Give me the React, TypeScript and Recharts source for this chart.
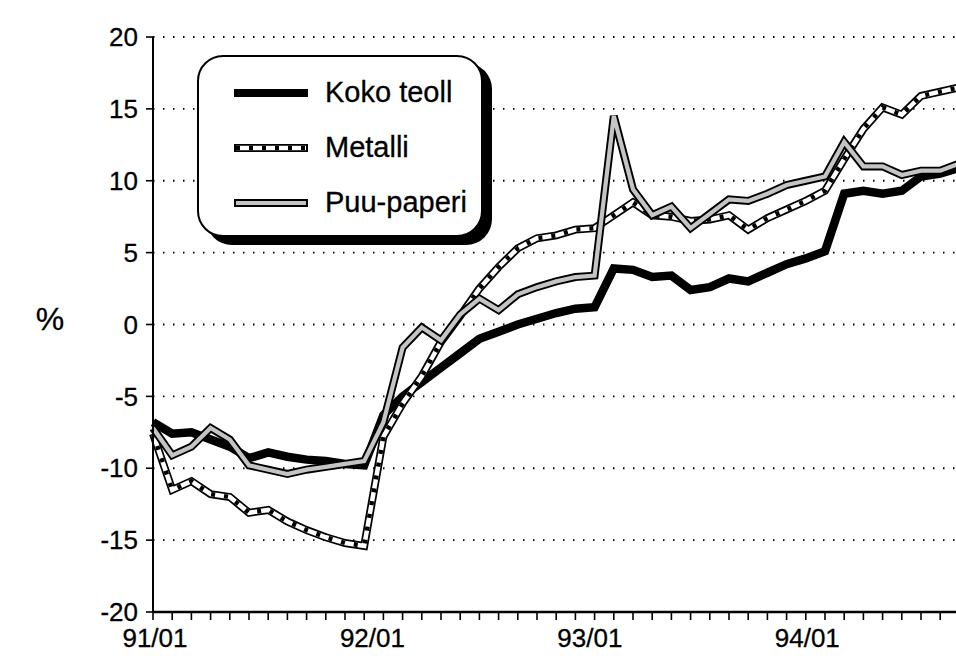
import React from "react";
import { LineChart, Line, XAxis, YAxis, CartesianGrid, Legend } from "recharts";

const months = [
  "91/01", "91/02", "91/03", "91/04", "91/05", "91/06", "91/07", "91/08", "91/09", "91/10", "91/11", "91/12",
  "92/01", "92/02", "92/03", "92/04", "92/05", "92/06", "92/07", "92/08", "92/09", "92/10", "92/11", "92/12",
  "93/01", "93/02", "93/03", "93/04", "93/05", "93/06", "93/07", "93/08", "93/09", "93/10", "93/11", "93/12",
  "94/01", "94/02", "94/03", "94/04", "94/05", "94/06", "94/07",
];

const kokoTeoll = [
  -6.8, -7.6, -7.5, -8.0, -8.5, -9.3, -8.9, -9.2, -9.4, -9.5, -9.7, -9.8,
  -6.3, -5.0, -4.0, -3.0, -2.0, -1.0, -0.5, 0.0, 0.4, 0.8, 1.1, 1.2,
  3.9, 3.8, 3.3, 3.4, 2.4, 2.6, 3.2, 3.0, 3.6, 4.2, 4.6, 5.1,
  9.1, 9.3, 9.1, 9.3, 10.3, 10.5, 10.9,
];

const metalli = [
  -7.6, -11.5, -10.9, -11.8, -12.0, -13.1, -12.9, -13.7, -14.3, -14.8, -15.2, -15.4,
  -7.8, -5.5, -3.6, -1.2, 0.6, 2.5, 4.0, 5.3, 6.0, 6.2, 6.6, 6.7,
  7.6, 8.5, 7.6, 7.5, 7.2, 7.3, 7.6, 6.6, 7.4, 8.0, 8.6, 9.3,
  11.5, 13.6, 15.1, 14.6, 15.9, 16.2, 16.5,
];

const puuPaperi = [
  -7.2, -9.1, -8.5, -7.2, -8.0, -9.8, -10.1, -10.4, -10.1, -9.9, -9.7, -9.5,
  -6.8, -1.6, -0.2, -1.1, 0.7, 1.8, 1.0, 2.1, 2.6, 3.0, 3.3, 3.4,
  14.5, 9.4, 7.6, 8.2, 6.7, 7.7, 8.7, 8.6, 9.1, 9.7, 10.0, 10.3,
  12.7, 11.0, 11.0, 10.4, 10.7, 10.7, 11.2,
];

const yTicks = [-20, -15, -10, -5, 0, 5, 10, 15, 20];
const seriesNames = ["Koko teoll", "Metalli", "Puu-paperi"];

const data = months.map((month, i) => ({
  month,
  koko: kokoTeoll[i],
  metalli: metalli[i],
  puu: puuPaperi[i],
}));

const FONT = "'Liberation Sans', Arial, Helvetica, sans-serif";
const PUU_FILL = "#c4c4c4";

// only the year starts get a label, the printed labels drift a bit left of their ticks
const MonthTick = (props: any) => {
  const { x, y, payload } = props;
  const label: string = payload.value;
  const idx = months.indexOf(label);
  if (!label.endsWith("/01")) return <g />;
  return (
    <text
      x={x + 2 - idx * 1.08}
      y={y + 7}
      dy="0.71em"
      textAnchor="middle"
      fontSize={26}
      fontFamily={FONT}
      fill="#000"
      stroke="#000"
      strokeWidth={0.3}
    >
      {label}
    </text>
  );
};

const PercentLabel = (props: any) => {
  const { viewBox } = props;
  return (
    <text
      x={viewBox.x + 42}
      y={viewBox.y + viewBox.height / 2 - 6}
      dy="0.36em"
      textAnchor="middle"
      fontSize={32}
      fontFamily={FONT}
      fill="#000"
      stroke="#000"
      strokeWidth={0.3}
    >
      %
    </text>
  );
};

const Sample = ({ kind }: { kind: number }) => (
  <svg width={76} height={12} style={{ display: "block", flex: "none" }}>
    <line x1={1} y1={6} x2={75} y2={6} stroke="#000" strokeWidth={8} />
    {kind === 1 && (
      <>
        <line x1={3} y1={6} x2={73} y2={6} stroke="#fff" strokeWidth={4.5} />
        <line x1={3} y1={6} x2={73} y2={6} stroke="#000" strokeWidth={4.5} strokeDasharray="4 9" />
      </>
    )}
    {kind === 2 && <line x1={3} y1={6} x2={73} y2={6} stroke={PUU_FILL} strokeWidth={4} />}
  </svg>
);

const LegendBox = () => (
  <div
    style={{
      width: 286,
      height: 182,
      boxSizing: "border-box",
      border: "2.5px solid #000",
      borderRadius: 26,
      boxShadow: "9px 8px 0 #000",
      background: "#fff",
      paddingTop: 8,
      paddingLeft: 34,
      fontFamily: FONT,
    }}
  >
    {seriesNames.map((name, i) => (
      <div key={name} style={{ display: "flex", alignItems: "center", height: 55 }}>
        <Sample kind={i} />
        <span
          style={{
            marginLeft: 16,
            fontSize: 29,
            color: "#000",
            lineHeight: 1,
            WebkitTextStroke: "0.3px #000",
          }}
        >
          {name}
        </span>
      </div>
    ))}
  </div>
);

export default function App() {
  return (
    <div
      style={{
        position: "fixed",
        left: 0,
        top: 0,
        width: 956,
        height: 658,
        overflow: "hidden",
        background: "#fff",
      }}
    >
      <div style={{ position: "absolute", left: 8, top: 8 }}>
        <LineChart
          width={960}
          height={650}
          data={data}
          margin={{ top: 29, right: 8.6, left: 0, bottom: 0 }}
        >
          <CartesianGrid
            horizontal
            vertical={false}
            stroke="#000"
            strokeWidth={1.8}
            strokeDasharray="1.5 8.5"
          />
          <XAxis
            dataKey="month"
            interval={0}
            height={46}
            tickSize={8}
            tick={<MonthTick />}
            tickLine={{ stroke: "#000", strokeWidth: 1.6 }}
            axisLine={{ stroke: "#000", strokeWidth: 2.5 }}
          />
          <YAxis
            width={145}
            domain={[-20, 20]}
            ticks={yTicks}
            interval={0}
            tickSize={7}
            tickMargin={8}
            tick={{ fill: "#000", fontSize: 26, fontFamily: FONT, stroke: "#000", strokeWidth: 0.3 }}
            tickLine={{ stroke: "#000", strokeWidth: 1.6 }}
            axisLine={{ stroke: "#000", strokeWidth: 2 }}
            label={<PercentLabel />}
          />
          <Legend
            layout="vertical"
            align="center"
            verticalAlign="middle"
            content={<LegendBox />}
            wrapperStyle={{ left: 189, top: 47, width: 300, height: 195 }}
          />

          <Line dataKey="koko" stroke="#000" strokeWidth={8.5} dot={false} activeDot={false} isAnimationActive={false} />

          <Line dataKey="metalli" stroke="#000" strokeWidth={8} dot={false} activeDot={false} isAnimationActive={false} />
          <Line dataKey="metalli" stroke="#fff" strokeWidth={4.5} dot={false} activeDot={false} isAnimationActive={false} />
          <Line
            dataKey="metalli"
            stroke="#000"
            strokeWidth={4.5}
            strokeDasharray="4 9"
            dot={false}
            activeDot={false}
            isAnimationActive={false}
          />

          <Line dataKey="puu" stroke="#000" strokeWidth={8} dot={false} activeDot={false} isAnimationActive={false} />
          <Line dataKey="puu" stroke={PUU_FILL} strokeWidth={4.2} dot={false} activeDot={false} isAnimationActive={false} />
        </LineChart>
      </div>
    </div>
  );
}
